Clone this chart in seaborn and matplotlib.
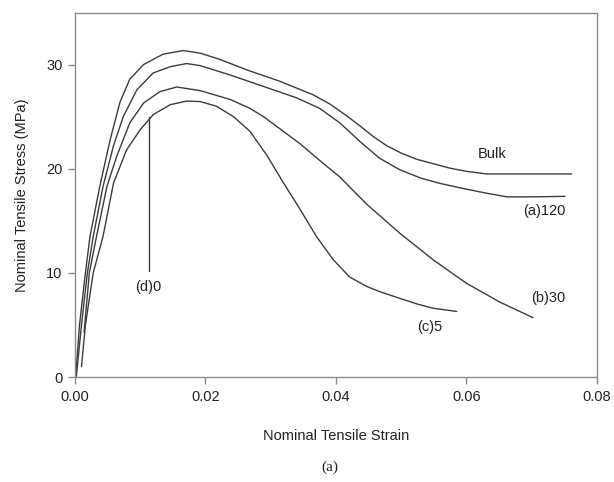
"""
plot.py
Curvas tension-deformacion nominal (Bulk y muestras (a)-(d))

Salida: out.png
"""

import pandas as pd
import matplotlib
matplotlib.use("Agg")
import matplotlib.pyplot as plt
import seaborn as sns

# DATOS

bulk_strain = [0.0001, 0.0007, 0.0016, 0.0023, 0.0038, 0.0054, 0.0069, 0.0084, 0.0105,
               0.0135, 0.0166, 0.0192, 0.0222, 0.0263, 0.0314, 0.0365, 0.0391, 0.0416,
               0.0437, 0.0457, 0.0478, 0.0500, 0.0524, 0.0575, 0.0600, 0.0631, 0.0700,
               0.0761]
bulk_stress = [0.0, 5.0, 10.0, 13.5, 18.3, 22.8, 26.4, 28.6, 30.0,
               31.0, 31.35, 31.1, 30.5, 29.5, 28.4, 27.1, 26.2, 25.1,
               24.1, 23.1, 22.2, 21.5, 20.9, 20.05, 19.75, 19.5, 19.5,
               19.5]

a120_strain = [0.0002, 0.0010, 0.0019, 0.0028, 0.0043, 0.0059, 0.0074, 0.0095, 0.0120,
               0.0146, 0.0171, 0.0192, 0.0238, 0.0289, 0.0340, 0.0375, 0.0406, 0.0437,
               0.0467, 0.0498, 0.0530, 0.0559, 0.0595, 0.0631, 0.0662, 0.0700, 0.0751]
a120_stress = [0.0, 5.0, 10.0, 13.5, 18.3, 22.2, 25.0, 27.6, 29.2,
               29.8, 30.1, 29.9, 29.0, 27.9, 26.8, 25.8, 24.4, 22.6,
               21.0, 19.9, 19.1, 18.6, 18.1, 17.65, 17.3, 17.3, 17.35]

b30_strain = [0.0014, 0.0022, 0.0033, 0.0049, 0.0064, 0.0084, 0.0105, 0.0130, 0.0156,
              0.0192, 0.0238, 0.0268, 0.0289, 0.0345, 0.0375, 0.0406, 0.0447, 0.0467,
              0.0498, 0.0549, 0.0600, 0.0651, 0.0702]
b30_stress = [4.3, 10.0, 13.5, 18.3, 21.2, 24.4, 26.3, 27.4, 27.85,
              27.5, 26.65, 25.8, 25.0, 22.4, 20.8, 19.2, 16.6, 15.5,
              13.8, 11.25, 9.0, 7.2, 5.7]

c5_strain = [0.0010, 0.0016, 0.0028, 0.0043, 0.0059, 0.0079, 0.0100, 0.0120, 0.0146,
             0.0171, 0.0192, 0.0217, 0.0243, 0.0268, 0.0294, 0.0319, 0.0345, 0.0370,
             0.0396, 0.0421, 0.0447, 0.0467, 0.0498, 0.0525, 0.0549, 0.0585]
c5_stress = [1.0, 5.0, 10.0, 13.5, 18.6, 21.8, 23.75, 25.2, 26.15,
             26.5, 26.45, 26.0, 25.0, 23.6, 21.3, 18.7, 16.1, 13.5,
             11.25, 9.6, 8.7, 8.2, 7.55, 7.0, 6.6, 6.3]

# linea indicadora de (d)0
d0_strain = [0.0114, 0.0114]
d0_stress = [10.2, 25.0]

curve_labels = ["Bulk", "(a)120", "(b)30", "(c)5", "(d)0"]
label_x = [0.0640, 0.0720, 0.0725, 0.0544, 0.0112]
label_y = [21.4, 15.9, 7.6, 4.8, 8.6]

x_ticks = [0.00, 0.02, 0.04, 0.06, 0.08]
y_ticks = [0, 10, 20, 30]

# ESTILO

sns.set_style("white")
plt.rcParams["font.family"] = ["Liberation Sans", "DejaVu Sans"]

LINE_COLOR = "#3c3c3c"
SPINE_COLOR = "#8a8a8a"


def main():
    fig = plt.figure(figsize=(6.14, 4.82), dpi=100)
    ax = fig.add_axes([0.1221, 0.2178, 0.8502, 0.7562])

    series = [
        (bulk_strain, bulk_stress),
        (a120_strain, a120_stress),
        (b30_strain, b30_stress),
        (c5_strain, c5_stress),
        (d0_strain, d0_stress),
    ]
    for strain, stress in series:
        df = pd.DataFrame({"strain": strain, "stress": stress})
        sns.lineplot(data=df, x="strain", y="stress", sort=False,
                     estimator=None, color=LINE_COLOR, linewidth=1.0, ax=ax)

    for lab, lx, ly in zip(curve_labels, label_x, label_y):
        ax.text(lx, ly, lab, ha="center", va="center", fontsize=10.5,
                color="#222222")

    ax.set_xlim(0, 0.08)
    ax.set_ylim(0, 35)
    ax.set_xticks(x_ticks)
    ax.set_yticks(y_ticks)
    ax.set_xticklabels([f"{v:.2f}" for v in x_ticks])
    ax.tick_params(axis="both", direction="out", length=5, width=1,
                   color=SPINE_COLOR, labelsize=10.5, labelcolor="#222222",
                   bottom=True, left=True, pad=4)

    for side in ["left", "right", "top", "bottom"]:
        ax.spines[side].set_visible(True)
        ax.spines[side].set_color(SPINE_COLOR)
        ax.spines[side].set_linewidth(1.0)

    ax.set_xlabel("Nominal Tensile Strain", fontsize=10.5, color="#222222",
                  labelpad=18)
    ax.set_ylabel("Nominal Tensile Stress (MPa)", fontsize=10.5,
                  color="#222222", labelpad=12)

    fig.text(0.537, 0.03, "(a)", ha="center", va="center", fontsize=11,
             family=["Liberation Serif", "DejaVu Serif"], color="#222222")

    fig.savefig("out.png", dpi=100)


if __name__ == "__main__":
    main()
